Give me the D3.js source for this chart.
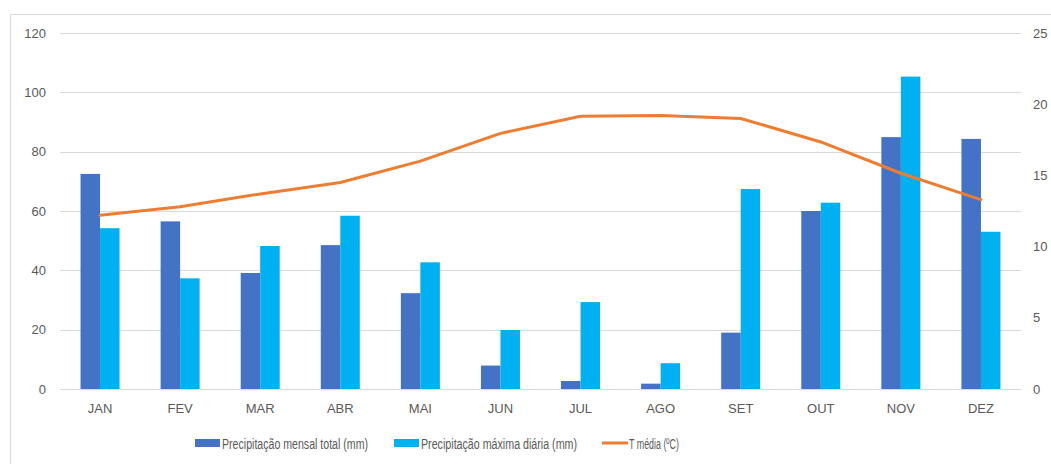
<!DOCTYPE html>
<html><head><meta charset="utf-8">
<script src="https://cdn.jsdelivr.net/npm/d3@7"></script>
<style>body{margin:0;background:#fff}svg{display:block}</style>
</head><body>
<svg id="c" width="1051" height="464"></svg>
<script>
const months = ["JAN","FEV","MAR","ABR","MAI","JUN","JUL","AGO","SET","OUT","NOV","DEZ"];
const precTotal = [72.5, 56.5, 39.1, 48.5, 32.3, 7.9, 2.7, 1.8, 19.0, 60.0, 84.9, 84.3];
const precMax = [54.2, 37.3, 48.2, 58.4, 42.7, 19.9, 29.3, 8.7, 67.4, 62.8, 105.3, 53.0];
const tMedia = [12.2, 12.8, 13.7, 14.5, 16.0, 17.95, 19.15, 19.2, 19.0, 17.35, 15.15, 13.3];
const leftTicks = [0, 20, 40, 60, 80, 100, 120];
const rightTicks = [0, 5, 10, 15, 20, 25];
const seriesNames = ["Precipitação mensal total (mm)", "Precipitação máxima diária (mm)", "T média (ºC)"];
const colors = ["#4472C4", "#00B0F0", "#ED7D31"];

const svg = d3.select("#c");
const font = "'Liberation Sans',Arial,sans-serif";
const L = 60, R = 1021, T = 33, B = 389;

svg.append("rect").attr("x",10.5).attr("y",14.5).attr("width",1100).attr("height",470)
  .attr("fill","#fff").attr("stroke","#d9d9d9");

const x0 = d3.scaleBand().domain(months).range([L,R]).paddingInner(0.513).paddingOuter(0.2565);
const x1 = d3.scaleBand().domain([0,1]).range([0,x0.bandwidth()]);
const yL = d3.scaleLinear().domain([0,120]).range([B,T]);
const yR = d3.scaleLinear().domain([0,25]).range([B,T]);

// gridlines
svg.append("g").selectAll("line").data(leftTicks).join("line")
  .attr("x1",L).attr("x2",R).attr("y1",d=>Math.round(yL(d))+0.5).attr("y2",d=>Math.round(yL(d))+0.5)
  .attr("stroke","#d9d9d9").attr("stroke-width",1);

// left axis
const axL = d3.axisLeft(yL).tickValues(leftTicks).tickSize(0).tickPadding(14);
const gL = svg.append("g").attr("transform",`translate(${L},0)`).call(axL);
gL.select(".domain").remove();
gL.selectAll("text").attr("fill","#595959").style("font-family",font).style("font-size","13px");

// right axis
const axR = d3.axisRight(yR).tickValues(rightTicks).tickSize(0).tickPadding(12);
const gR = svg.append("g").attr("transform",`translate(${R},0)`).call(axR);
gR.select(".domain").remove();
gR.selectAll("text").attr("fill","#595959").style("font-family",font).style("font-size","13px");

// bars
const series = [precTotal, precMax];
series.forEach((vals,si)=>{
  svg.append("g").selectAll("rect").data(vals).join("rect")
    .attr("x",(d,i)=>x0(months[i])+x1(si))
    .attr("width",x1.bandwidth())
    .attr("y",d=>yL(d))
    .attr("height",d=>yL(0)-yL(d))
    .attr("fill",colors[si]);
});

// x axis
const axX = d3.axisBottom(x0).tickSize(0).tickPadding(15);
const gX = svg.append("g").attr("transform",`translate(0,${B})`).call(axX);
gX.select(".domain").remove();
gX.selectAll("text").attr("fill","#595959").style("font-family",font).style("font-size","13px");

// line
const line = d3.line().x((d,i)=>x0(months[i])+x0.bandwidth()/2).y(d=>yR(d));
svg.append("path").datum(tMedia).attr("d",line).attr("fill","none")
  .attr("stroke",colors[2]).attr("stroke-width",3).attr("stroke-linejoin","round").attr("stroke-linecap","round");

// legend
const legX = [195, 394, 602];
const legW = [146, 156, 50];
const lg = svg.append("g");
seriesNames.forEach((n,i)=>{
  if(i<2){
    lg.append("rect").attr("x",legX[i]).attr("y",439).attr("width",25).attr("height",8).attr("fill",colors[i]);
  } else {
    lg.append("line").attr("x1",legX[i]).attr("x2",legX[i]+26).attr("y1",443).attr("y2",443)
      .attr("stroke",colors[i]).attr("stroke-width",3);
  }
  lg.append("text").attr("x",legX[i]+27).attr("y",448.5).text(n)
    .attr("textLength",legW[i]).attr("lengthAdjust","spacingAndGlyphs")
    .attr("fill","#595959").style("font-family",font).style("font-size","14px");
});
</script>
</body></html>
